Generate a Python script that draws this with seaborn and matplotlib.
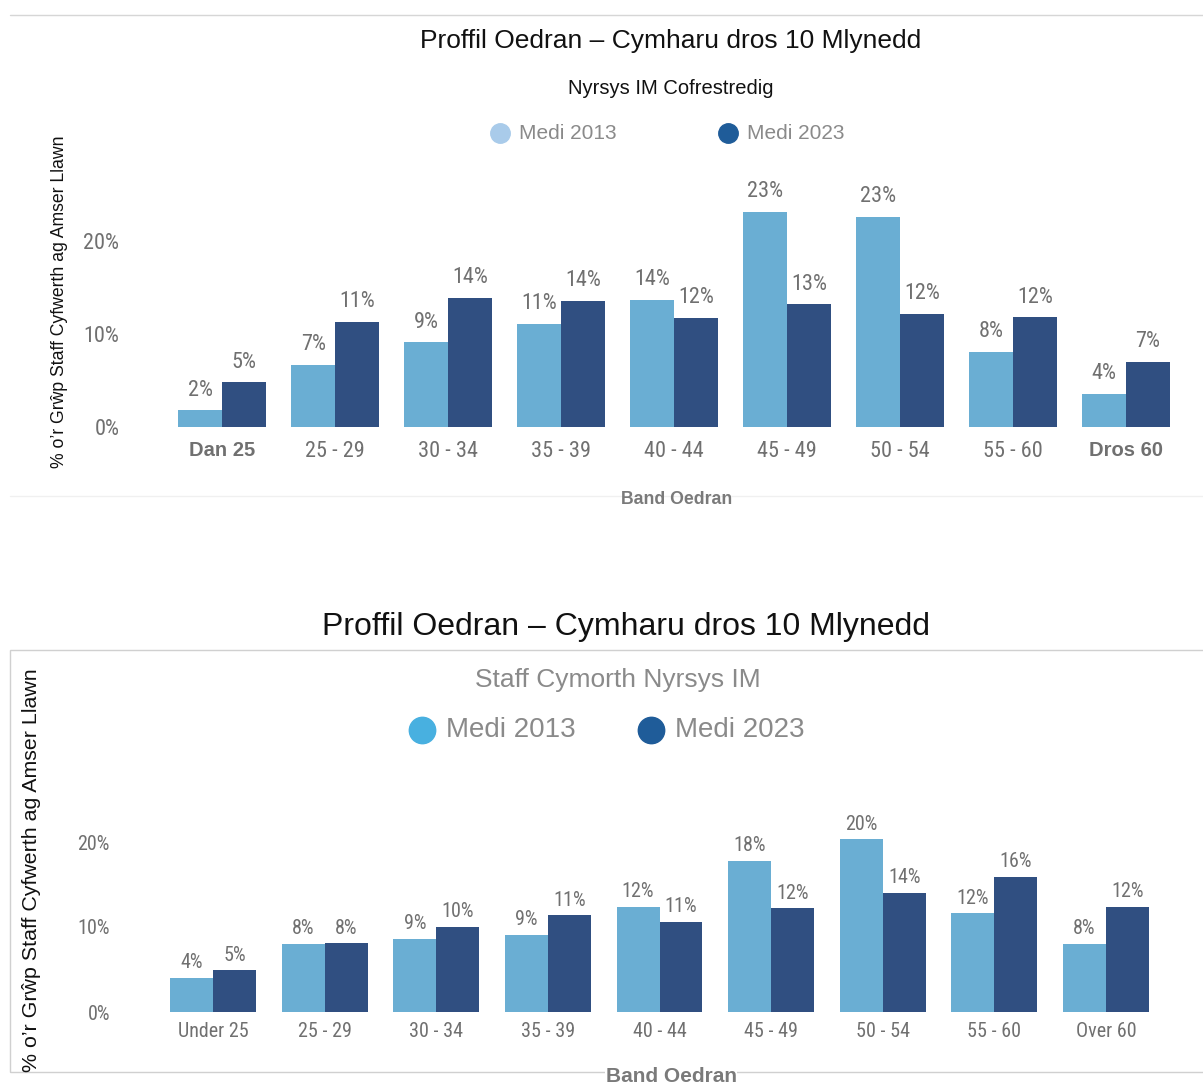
import matplotlib
matplotlib.use("Agg")
import matplotlib.pyplot as plt
from matplotlib import font_manager
from matplotlib.lines import Line2D
from matplotlib.patches import Rectangle
import seaborn as sns
import pandas as pd

# ---- data -------------------------------------------------------------
bands_top = ["Dan 25", "25 - 29", "30 - 34", "35 - 39", "40 - 44",
             "45 - 49", "50 - 54", "55 - 60", "Dros 60"]
nurses_2013 = [1.8, 6.7, 9.1, 11.1, 13.7, 23.1, 22.6, 8.1, 3.6]
nurses_2023 = [4.8, 11.3, 13.9, 13.6, 11.7, 13.2, 12.2, 11.8, 7.0]

bands_bottom = ["Under 25", "25 - 29", "30 - 34", "35 - 39", "40 - 44",
                "45 - 49", "50 - 54", "55 - 60", "Over 60"]
support_2013 = [4.0, 8.0, 8.6, 9.1, 12.4, 17.8, 20.3, 11.6, 8.0]
support_2023 = [4.9, 8.1, 10.0, 11.4, 10.6, 12.2, 14.0, 15.9, 12.4]

years = ["Medi 2013", "Medi 2023"]
yticks = [0, 10, 20]

title = "Proffil Oedran \u2013 Cymharu dros 10 Mlynedd"
sub_top = "Nyrsys IM Cofrestredig"
sub_bottom = "Staff Cymorth Nyrsys IM"
ylabel = "% o\u2019r Grŵp Staff Cyfwerth ag Amser Llawn"
xlabel = "Band Oedran"

# ---- style ------------------------------------------------------------
LIGHT = "#6aaed3"
DARK = "#304f81"
GREY = "#707070"

sns.set_theme(style="white")
available = {f.name for f in font_manager.fontManager.ttflist}


def pick(*names):
    for n in names:
        if n in available:
            return n
    return "DejaVu Sans"


SANS = pick("Liberation Sans", "Arimo", "DejaVu Sans")
NARROW = pick("Liberation Sans Narrow", "DejaVu Sans Condensed", "Roboto Condensed",
              "Open Sans Condensed", "Liberation Sans")
plt.rcParams["font.family"] = [SANS, "DejaVu Sans"]

W, H = 1203, 1084
fig = plt.figure(figsize=(W / 100, H / 100), dpi=100)


def fx(px):
    return px / W


def fy(py):
    return 1 - py / H


def long_form(bands, a, b):
    return pd.DataFrame({
        "band": bands * 2,
        "year": [years[0]] * len(bands) + [years[1]] * len(bands),
        "value": list(a) + list(b),
    })


def draw_panel(ax, bands, a, b, width, label_size, tick_size, pad, bold_ends):
    df = long_form(bands, a, b)
    sns.barplot(data=df, x="band", y="value", hue="year", order=bands,
                hue_order=years, palette=[LIGHT, DARK], width=width, gap=0,
                saturation=1, legend=False, ax=ax, edgecolor="none")
    for cont in ax.containers:
        ax.bar_label(cont, labels=[f"{v:.0f}%" for v in cont.datavalues],
                     padding=pad, fontsize=label_size, color=GREY,
                     family=NARROW)
    ax.set_yticks(yticks)
    ax.set_yticklabels([f"{t}%" for t in yticks], family=NARROW,
                       fontsize=tick_size, color=GREY)
    ax.set_xticks(range(len(bands)))
    ax.set_xticklabels(bands, fontsize=tick_size, color=GREY, family=NARROW)
    if bold_ends:
        for i in (0, len(bands) - 1):
            lab = ax.get_xticklabels()[i]
            lab.set_family(SANS)
            lab.set_fontweight("bold")
            lab.set_fontsize(tick_size - 1.5)
    ax.tick_params(axis="both", length=0)
    ax.set_xlabel("")
    ax.set_ylabel("")
    sns.despine(ax=ax, left=True, bottom=True)
    ax.grid(False)


# ---- top panel --------------------------------------------------------
fig.add_artist(Line2D([fx(10), fx(1203)], [fy(15), fy(15)], color="#d6d6d6", lw=1))
fig.add_artist(Line2D([fx(10), fx(1203)], [fy(496), fy(496)], color="#f0f0f0", lw=1))

top_l, top_r = 150, 1189
top_t, top_b = 180, 427
ax1 = fig.add_axes([fx(top_l), fy(top_b), (top_r - top_l) / W, (top_b - top_t) / H])
draw_panel(ax1, bands_top, nurses_2013, nurses_2023, 0.78, 16, 16, 7, True)
ax1.set_xlim(-0.64, 8.56)
ax1.set_ylim(0, (top_b - top_t) / 9.3)
ax1.tick_params(axis="y", pad=22)
ax1.tick_params(axis="x", pad=10)

fig.text(fx(671), fy(41), title, ha="center", va="center", fontsize=19, color="#111111")
fig.text(fx(671), fy(88), sub_top, ha="center", va="center", fontsize=14.5, color="#111111")
for mx, col, txt in [(500, "#a9cbea", years[0]), (728, "#1f5c99", years[1])]:
    fig.add_artist(Line2D([fx(mx)], [fy(133)], marker="o", markersize=14,
                          color=col, linestyle="none"))
    fig.text(fx(mx + 19), fy(133), txt, ha="left", va="center", fontsize=15, color="#8a8a8a")
fig.text(fx(60), fy(302), ylabel, rotation=90, ha="center", va="center",
         fontsize=12.7, color="#111111")
fig.text(fx(677), fy(499), xlabel, ha="center", va="center", fontsize=12.7,
         fontweight="bold", color="#7a7a7a")

# ---- bottom panel -----------------------------------------------------
fig.add_artist(Rectangle((fx(10), fy(1072)), fx(1203) - fx(10) + 0.01, fy(650) - fy(1072),
                         fill=False, edgecolor="#d0d0d0", lw=1))

bot_l, bot_r = 146, 1173
bot_t, bot_b = 800, 1012
ax2 = fig.add_axes([fx(bot_l), fy(bot_b), (bot_r - bot_l) / W, (bot_b - bot_t) / H])
draw_panel(ax2, bands_bottom, support_2013, support_2023, 0.77, 14.5, 14.5, 4, False)
ax2.set_xlim(-0.6, 8.6)
ax2.set_ylim(0, (bot_b - bot_t) / 8.5)
ax2.tick_params(axis="y", pad=26)
ax2.tick_params(axis="x", pad=7)

fig.text(fx(626), fy(627), title, ha="center", va="center", fontsize=23, color="#111111")
fig.text(fx(618), fy(680), sub_bottom, ha="center", va="center", fontsize=19, color="#8a8a8a")
for mx, col, txt in [(422, "#48b0e0", years[0]), (651, "#1f5c99", years[1])]:
    fig.add_artist(Line2D([fx(mx)], [fy(730)], marker="o", markersize=19,
                          color=col, linestyle="none"))
    fig.text(fx(mx + 24), fy(730), txt, ha="left", va="center", fontsize=20, color="#8a8a8a")
fig.text(fx(32), fy(870), ylabel, rotation=90, ha="center", va="center",
         fontsize=15.4, color="#111111")
fig.text(fx(671), fy(1076), xlabel, ha="center", va="center", fontsize=15,
         fontweight="bold", color="#7a7a7a",
         bbox=dict(facecolor="white", edgecolor="none", pad=0.5))

fig.savefig("out.png", dpi=100, facecolor="white")
